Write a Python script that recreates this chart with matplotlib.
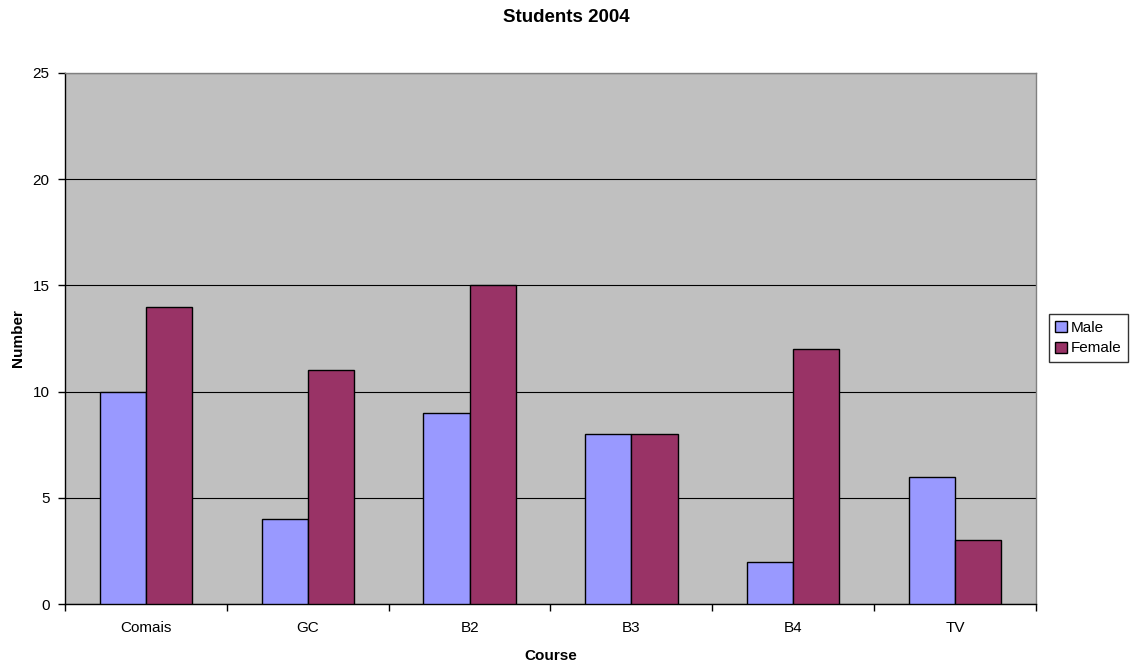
import matplotlib
matplotlib.use("Agg")
import matplotlib.pyplot as plt
import numpy as np
from matplotlib.patches import Patch

plt.rcParams['font.family'] = ['Liberation Sans', 'DejaVu Sans']

courses = ["Comais", "GC", "B2", "B3", "B4", "TV"]
male = [10, 4, 9, 8, 2, 6]
female = [14, 11, 15, 8, 12, 3]
y_ticks = [0, 5, 10, 15, 20, 25]

male_color = "#9999FF"
female_color = "#993366"

fig = plt.figure(figsize=(11.33, 6.67), dpi=100)
ax = fig.add_axes([65/1133, 63/667, (1036-65)/1133, (604-73)/667])
ax.set_facecolor("#C0C0C0")

x = np.arange(len(courses))
w = 1/3.5
ax.set_axisbelow(True)
ax.yaxis.grid(True, color="#000000", linewidth=0.8)
ax.bar(x - w/2, male, width=w, color=male_color, edgecolor="black", linewidth=1.0, zorder=3)
ax.bar(x + w/2, female, width=w, color=female_color, edgecolor="black", linewidth=1.0, zorder=3)

ax.set_xlim(-0.5, len(courses) - 0.5)
ax.set_ylim(0, 25)
ax.set_yticks(y_ticks)
ax.set_xticks(x)
ax.set_xticklabels(courses, fontsize=11)
ax.set_xticks(np.arange(len(courses) + 1) - 0.5, minor=True)
ax.tick_params(axis='x', which='major', length=0, pad=12)
ax.tick_params(axis='x', which='minor', length=5, width=1, direction='out')
ax.tick_params(axis='y', length=5, width=1, direction='out', labelsize=11, pad=6)

for s in ['top', 'right']:
    ax.spines[s].set_color("#808080")
    ax.spines[s].set_linewidth(1)
for s in ['left', 'bottom']:
    ax.spines[s].set_color("black")
    ax.spines[s].set_linewidth(1)

ax.set_xlabel("Course", fontsize=11, fontweight='bold', labelpad=10)
ax.set_ylabel("Number", fontsize=11, fontweight='bold', va='center')
ax.yaxis.set_label_coords((18 - 65) / 971, 0.5)
fig.text(0.5, 1 - 18/667, "Students 2004", ha='center', va='center', fontsize=13.5, fontweight='bold')

handles = [Patch(facecolor=male_color, edgecolor='black', label='Male'),
           Patch(facecolor=female_color, edgecolor='black', label='Female')]
leg = fig.legend(handles=handles, loc='center left', bbox_to_anchor=(1049/1133, 1 - 338/667),
                 fontsize=11, frameon=True, fancybox=False, edgecolor='black',
                 handlelength=0.75, handleheight=0.75, handletextpad=0.3,
                 borderpad=0.4, labelspacing=0.45, borderaxespad=0)
leg.get_frame().set_linewidth(1)

fig.savefig("out.png", dpi=100)
